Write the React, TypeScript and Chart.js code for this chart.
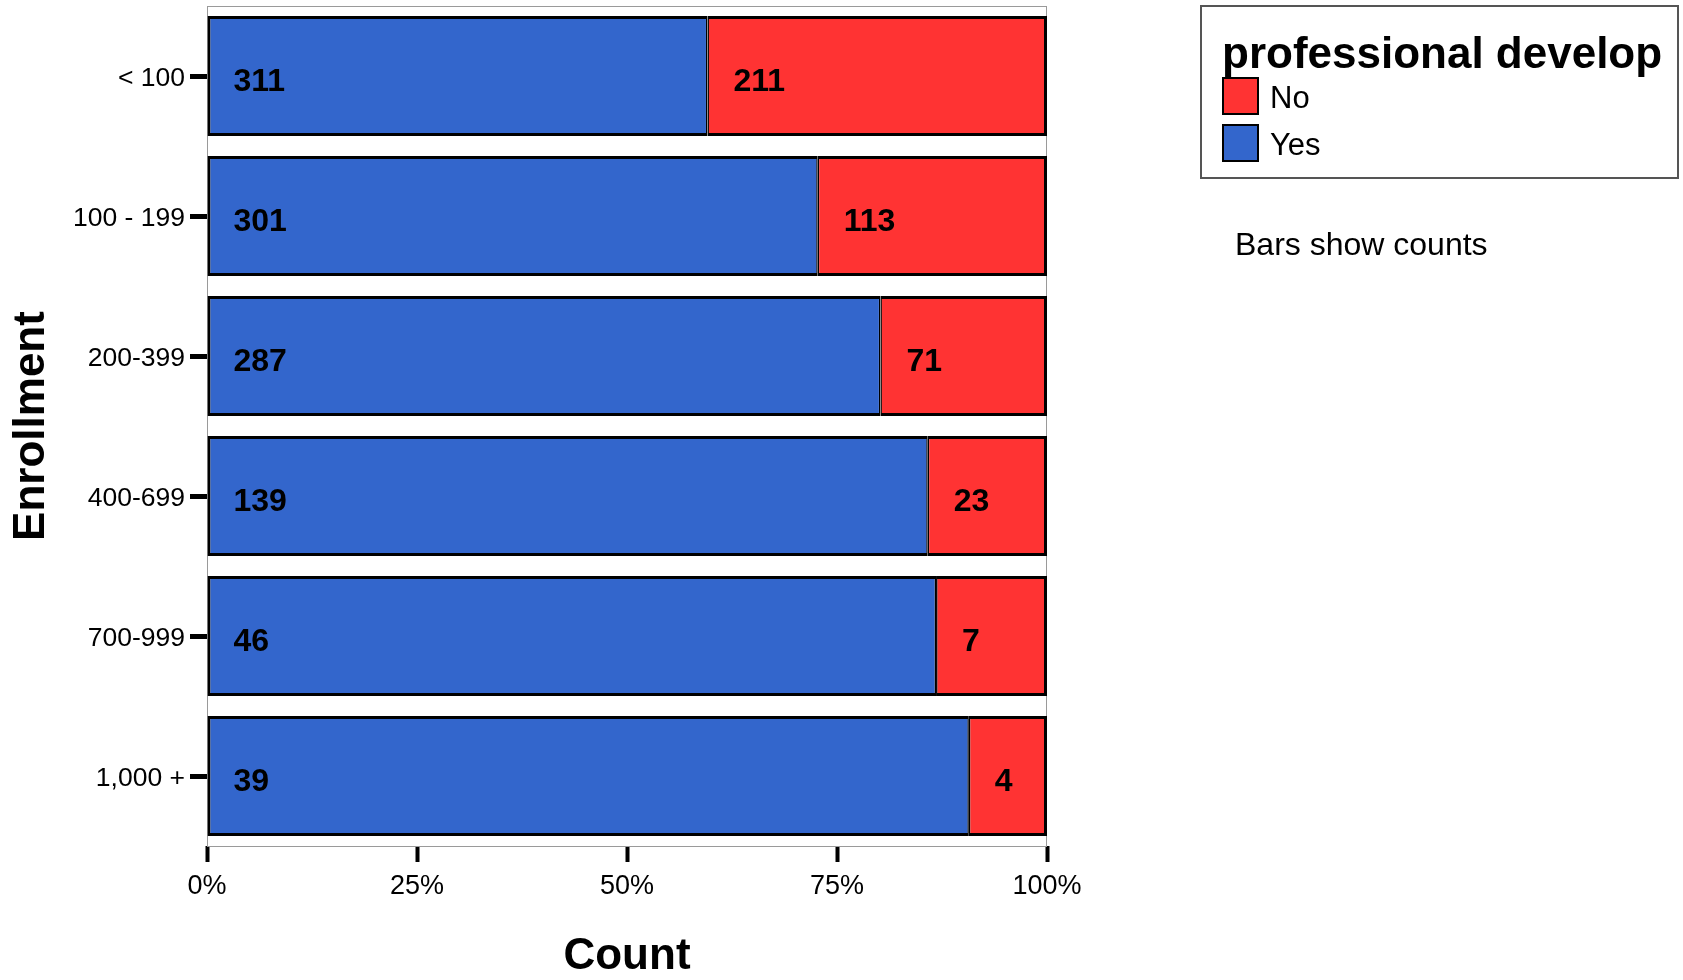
import React, { useEffect, useRef } from 'react';
import { Chart, registerables } from 'chart.js';

Chart.register(...registerables);

// ---- data ----
const categories = ['< 100', '100 - 199', '200-399', '400-699', '700-999', '1,000 +'];
const yesCounts = [311, 301, 287, 139, 46, 39];
const noCounts = [211, 113, 71, 23, 7, 4];
const xTickValues = [0, 25, 50, 75, 100];
const seriesNames = ['Yes', 'No'];
const legendTitle = 'professional develop';
const footnote = 'Bars show counts';
const xTitle = 'Count';
const yTitle = 'Enrollment';

const FONT = '"Liberation Sans", Arial, Helvetica, sans-serif';
const BLUE = '#3366CC';
const RED = '#FF3333';

const totals = categories.map((_, i) => yesCounts[i] + noCounts[i]);
const yesPct = yesCounts.map((v, i) => (v / totals[i]) * 100);
const noPct = noCounts.map((v, i) => (v / totals[i]) * 100);

const framePlugin = {
  id: 'frame',
  beforeDatasetsDraw(chart: any) {
    const { ctx, chartArea } = chart;
    ctx.save();
    ctx.strokeStyle = '#9a9a9a';
    ctx.lineWidth = 1;
    ctx.strokeRect(chartArea.left + 0.5, chartArea.top + 0.5, chartArea.right - chartArea.left - 1, chartArea.bottom - chartArea.top);
    ctx.restore();
  },
};

const valueLabelPlugin = {
  id: 'valueLabels',
  afterDatasetsDraw(chart: any) {
    const { ctx } = chart;
    ctx.save();
    ctx.fillStyle = '#000';
    ctx.font = `bold 32px ${FONT}`;
    ctx.textAlign = 'left';
    ctx.textBaseline = 'alphabetic';
    chart.data.datasets.forEach((ds: any, di: number) => {
      const meta = chart.getDatasetMeta(di);
      meta.data.forEach((el: any, i: number) => {
        const left = Math.min(el.base, el.x);
        ctx.fillText(String(ds.counts[i]), left + 26, el.y + 15);
      });
    });
    ctx.restore();
  },
};

const legendPlugin = {
  id: 'customLegend',
  afterDraw(chart: any) {
    const { ctx } = chart;
    ctx.save();
    ctx.strokeStyle = '#555';
    ctx.lineWidth = 2;
    ctx.strokeRect(1201, 6, 477, 172);
    ctx.fillStyle = '#000';
    ctx.font = `bold 44px ${FONT}`;
    ctx.textAlign = 'left';
    ctx.textBaseline = 'alphabetic';
    ctx.fillText(legendTitle, 1222, 68);
    const items = chart.data.datasets.slice().reverse();
    ctx.font = `31px ${FONT}`;
    items.forEach((ds: any, k: number) => {
      const top = 78 + k * 47;
      ctx.fillStyle = ds.backgroundColor;
      ctx.fillRect(1223, top, 35, 36);
      ctx.strokeStyle = '#000';
      ctx.lineWidth = 2;
      ctx.strokeRect(1223, top, 35, 36);
      ctx.fillStyle = '#000';
      ctx.fillText(ds.label, 1270, top + 30);
    });
    ctx.font = `32px ${FONT}`;
    ctx.fillText(footnote, 1235, 255);
    ctx.restore();
  },
};

export default function App() {
  const ref = useRef<HTMLCanvasElement | null>(null);

  useEffect(() => {
    if (!ref.current) return;
    const chart = new Chart(ref.current, {
      type: 'bar',
      data: {
        labels: categories,
        datasets: [
          {
            label: seriesNames[0],
            data: yesPct,
            counts: yesCounts,
            backgroundColor: BLUE,
            borderColor: '#000',
            borderWidth: { left: 3, top: 3, bottom: 3, right: 1.5 },
            borderSkipped: false,
          } as any,
          {
            label: seriesNames[1],
            data: noPct,
            counts: noCounts,
            backgroundColor: RED,
            borderColor: '#000',
            borderWidth: { left: 1.5, top: 3, bottom: 3, right: 3 },
            borderSkipped: false,
          } as any,
        ],
      },
      options: {
        indexAxis: 'y',
        animation: false,
        responsive: true,
        maintainAspectRatio: false,
        layout: { padding: { top: 6, right: 636, left: 0, bottom: 0 } },
        datasets: { bar: { categoryPercentage: 1, barPercentage: 0.857 } },
        plugins: { legend: { display: false }, tooltip: { enabled: false } },
        scales: {
          x: {
            type: 'linear',
            stacked: true,
            min: 0,
            max: 100,
            afterBuildTicks: (scale: any) => {
              scale.ticks = xTickValues.map((v) => ({ value: v }));
            },
            afterFit: (scale: any) => {
              scale.height = 134;
              scale.paddingLeft = 0;
              scale.paddingRight = 0;
            },
            border: { display: false },
            grid: {
              drawOnChartArea: false,
              drawTicks: true,
              tickLength: 16,
              tickWidth: 4,
              tickColor: '#000',
            },
            ticks: {
              color: '#000',
              padding: 8,
              maxRotation: 0,
              font: { family: FONT, size: 27 },
              callback: (v: any) => `${v}%`,
            },
            title: {
              display: true,
              text: xTitle,
              color: '#000',
              font: { family: FONT, size: 44, weight: 'bold', lineHeight: 1 },
              padding: { top: 0, bottom: 1 },
            },
          },
          y: {
            type: 'category',
            stacked: true,
            afterFit: (scale: any) => {
              scale.width = 207;
              scale.paddingTop = 0;
              scale.paddingBottom = 0;
            },
            border: { display: false },
            grid: {
              offset: false,
              drawOnChartArea: false,
              drawTicks: true,
              tickLength: 17,
              tickWidth: 5,
              tickColor: '#000',
            },
            ticks: {
              color: '#000',
              padding: 5,
              autoSkip: false,
              labelOffset: 3,
              font: { family: FONT, size: 26.5 },
            },
            title: {
              display: true,
              text: yTitle,
              color: '#000',
              font: { family: FONT, size: 44, weight: 'bold', lineHeight: 1 },
              padding: { top: 10, bottom: 0 },
            },
          },
        },
      } as any,
      plugins: [framePlugin, valueLabelPlugin, legendPlugin],
    });
    return () => chart.destroy();
  }, []);

  return (
    <div style={{ position: 'absolute', left: 0, top: 0, width: 1683, height: 980, background: '#fff' }}>
      <canvas ref={ref} />
    </div>
  );
}
